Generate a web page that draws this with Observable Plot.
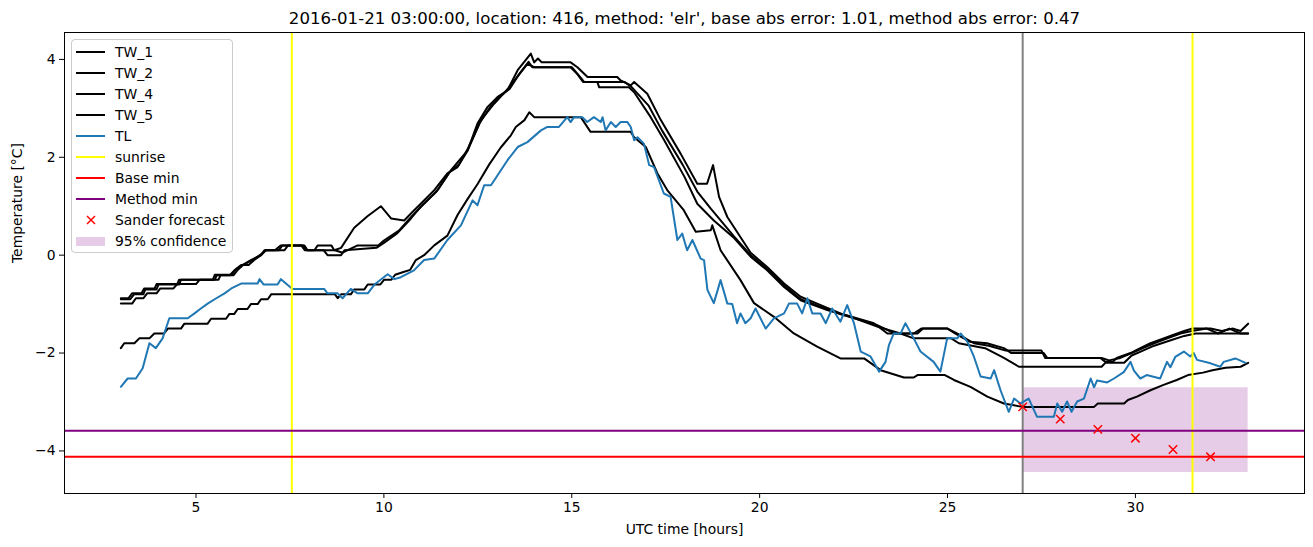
<!DOCTYPE html>
<html>
<head>
<meta charset="utf-8">
<script src="https://cdn.jsdelivr.net/npm/d3@7"></script>
<script src="https://cdn.jsdelivr.net/npm/@observablehq/plot@0.6"></script>
<style>
  body { margin: 0; background: #fff; font-family: "DejaVu Sans", sans-serif; }
  #wrap { position: relative; width: 1313px; height: 547px; }
  #legend { position: absolute; left: 71px; top: 39px; width: 162px; height: 214px; box-sizing: border-box;
            border: 1px solid #cccccc; border-radius: 4px; background: rgba(255,255,255,0.8);
            font-family: "DejaVu Sans", sans-serif; font-size: 13.9px; color: #000; }
  .row { position: absolute; left: 0; width: 160px; height: 20px; }
  .row svg { position: absolute; left: 3px; top: 0; }
  .row span { position: absolute; left: 43px; top: 1px; line-height: 18px; white-space: nowrap; }
</style>
</head>
<body>
<div id="wrap"><div id="legend"></div></div>
<script>
// ---------- data ----------
const titleText = "2016-01-21 03:00:00, location: 416, method: 'elr', base abs error: 1.01, method abs error: 0.47";
const xLabel = "UTC time [hours]";
const yLabel = "Temperature [°C]";
const xTicks = [5, 10, 15, 20, 25, 30];
const yTicks = [-4, -2, 0, 2, 4];

const tw1X = [3.0,3.2,3.3,3.55,3.62,3.9,3.95,4.5,4.55,5.5,5.55,5.9,6.02,6.2,6.4,6.55,6.73,6.82,7.1,7.26,7.88,7.97,8.15,8.24,8.6,8.68,8.86,9.21,9.57,9.92,10.19,10.54,10.72,10.98,11.34,11.69,11.96,12.23,12.49,12.76,13.02,13.29,13.56,13.91,14.0,14.1,14.2,14.97,15.15,15.42,16.21,16.3,16.57,16.66,17.01,17.37,17.9,18.34,18.6,18.76,18.92,19.14,19.76,20.2,20.65,21.09,21.53,22.15,23.04,23.4,24.1,24.3,25.0,25.2,25.6,26.05,26.5,26.7,27.56,27.65,29.07,29.2,29.4,29.5,29.87,30.13,30.4,30.75,31.0,31.3,31.5,32.0,32.3,32.6,32.8,33.0];
const tw1Y = [-0.88,-0.88,-0.78,-0.78,-0.68,-0.68,-0.59,-0.59,-0.5,-0.5,-0.41,-0.41,-0.31,-0.2,-0.2,-0.1,0.0,0.1,0.1,0.2,0.2,0.1,0.1,0.2,0.2,0.1,0.15,0.56,0.8,1.0,0.75,0.71,0.85,1.05,1.33,1.67,1.8,2.14,2.69,3.03,3.23,3.37,3.78,4.12,3.94,4.02,3.94,3.94,3.84,3.64,3.64,3.57,3.47,3.54,3.3,2.76,2.07,1.46,1.46,1.84,1.19,0.78,0.05,-0.24,-0.58,-0.85,-0.99,-1.19,-1.39,-1.6,-1.6,-1.5,-1.5,-1.6,-1.77,-1.8,-1.9,-2.0,-2.0,-2.1,-2.1,-2.18,-2.18,-2.1,-2.0,-1.9,-1.8,-1.7,-1.63,-1.55,-1.5,-1.5,-1.55,-1.5,-1.55,-1.4];

const tw2X = [3.0,3.3,3.4,3.6,3.7,3.95,4.05,4.4,4.5,5.0,5.1,5.6,5.65,6.0,6.1,6.25,6.46,6.73,6.86,7.35,7.45,7.8,7.9,8.4,8.5,8.86,8.95,9.8,10.0,10.36,10.72,10.98,11.43,11.78,12.23,12.58,12.94,13.3,13.82,14.0,15.0,15.33,15.68,15.73,16.52,16.66,17.1,17.46,18.0,18.34,18.78,19.32,19.76,20.2,20.65,21.09,21.8,22.42,23.13,23.75,24.1,25.1,25.3,26.0,26.5,26.9,29.1,29.2,29.7,29.9,30.2,30.5,30.9,31.3,31.6,33.0];
const tw2Y = [-0.99,-0.99,-0.88,-0.88,-0.78,-0.78,-0.68,-0.68,-0.59,-0.59,-0.5,-0.5,-0.41,-0.41,-0.31,-0.2,-0.1,0.0,0.1,0.1,0.2,0.2,0.1,0.1,0.0,0.0,0.1,0.15,0.25,0.45,0.75,0.99,1.33,1.73,2.14,2.76,3.1,3.4,3.91,3.84,3.84,3.54,3.54,3.43,3.43,3.33,2.82,2.35,1.6,1.05,0.71,0.35,-0.03,-0.31,-0.65,-0.92,-1.12,-1.26,-1.46,-1.6,-1.7,-1.7,-1.8,-1.9,-2.1,-2.28,-2.28,-2.2,-2.2,-2.05,-1.95,-1.85,-1.75,-1.65,-1.6,-1.6];

const tw4X = [3.0,3.25,3.35,3.6,3.65,3.95,4.0,4.55,4.6,5.45,5.5,5.95,6.05,6.25,6.5,6.7,6.85,7.2,7.3,7.85,7.95,8.7,8.9,9.3,9.85,10.0,10.4,10.75,11.0,11.4,11.75,12.0,12.25,12.55,12.85,13.1,13.35,13.6,13.85,13.95,14.97,15.15,15.3,16.4,16.6,17.05,17.4,17.95,18.34,18.7,19.3,19.76,20.2,20.65,21.09,21.6,22.2,23.1,23.6,24.2,24.35,25.0,25.25,25.7,26.1,26.55,27.5,27.6,29.1,29.3,29.6,29.9,30.2,30.5,30.85,31.2,31.5,31.9,32.2,32.5,32.8,33.0];
const tw4Y = [-0.9,-0.9,-0.8,-0.8,-0.7,-0.7,-0.6,-0.6,-0.5,-0.5,-0.4,-0.4,-0.3,-0.2,-0.1,0.0,0.1,0.1,0.2,0.2,0.1,0.1,0.05,0.2,0.2,0.3,0.5,0.8,1.0,1.3,1.7,1.85,2.2,2.7,3.05,3.25,3.4,3.7,3.95,3.84,3.84,3.7,3.54,3.54,3.43,3.05,2.55,1.85,1.3,0.95,0.4,0.0,-0.28,-0.62,-0.9,-1.05,-1.22,-1.42,-1.6,-1.6,-1.5,-1.5,-1.6,-1.8,-1.85,-1.95,-1.95,-2.1,-2.1,-2.15,-2.1,-2.0,-1.9,-1.8,-1.7,-1.6,-1.55,-1.5,-1.6,-1.5,-1.6,-1.6];

const tw5X = [3.0,3.09,3.36,3.49,3.76,3.89,4.15,4.25,4.6,4.69,5.31,5.4,5.8,5.89,6.02,6.11,6.37,6.46,6.64,6.73,6.91,7.0,8.7,8.77,8.86,9.12,9.21,9.48,9.57,9.9,10.01,10.2,10.3,10.5,10.7,10.85,11.07,11.34,11.69,11.96,12.23,12.49,12.8,13.11,13.38,13.51,13.74,13.87,14.0,15.24,15.5,16.57,16.66,16.97,17.28,17.54,17.98,18.3,18.7,18.74,18.96,19.49,19.85,20.38,20.91,21.53,22.15,22.78,23.22,23.84,24.1,24.2,24.93,25.17,25.61,26.06,26.5,27.0,28.9,29.0,29.7,29.8,30.04,30.4,30.75,31.1,31.4,31.8,32.05,32.4,32.8,33.0];
const tw5Y = [-1.9,-1.8,-1.8,-1.7,-1.7,-1.6,-1.6,-1.5,-1.5,-1.4,-1.4,-1.3,-1.3,-1.2,-1.2,-1.1,-1.1,-1.0,-1.0,-0.9,-0.9,-0.8,-0.8,-0.88,-0.8,-0.8,-0.7,-0.7,-0.6,-0.6,-0.5,-0.5,-0.4,-0.35,-0.3,-0.1,0.0,0.2,0.4,0.82,1.15,1.45,1.85,2.2,2.45,2.62,2.76,2.92,2.82,2.82,2.52,2.52,2.41,2.21,1.67,1.33,0.92,0.48,0.51,0.61,0.1,-0.51,-0.98,-1.26,-1.6,-1.87,-2.11,-2.11,-2.35,-2.5,-2.5,-2.45,-2.45,-2.55,-2.69,-2.89,-3.03,-3.1,-3.1,-3.03,-3.03,-2.96,-2.89,-2.76,-2.65,-2.55,-2.45,-2.4,-2.35,-2.3,-2.28,-2.2];

const tlX = [3.0,3.18,3.4,3.58,3.76,3.93,4.11,4.29,4.78,4.96,5.13,5.31,5.54,5.76,5.94,6.2,6.64,6.69,6.8,7.17,7.26,7.44,7.57,8.41,8.5,8.77,8.9,9.12,9.3,9.57,9.75,10.1,10.28,10.45,10.8,11.07,11.34,11.69,12.05,12.36,12.49,12.67,12.85,13.29,13.56,13.82,14.18,14.35,14.66,14.88,14.97,15.06,15.28,15.41,15.59,15.77,15.82,15.9,16.04,16.17,16.3,16.48,16.57,16.66,16.75,16.92,17.06,17.19,17.45,17.63,17.81,17.94,18.07,18.21,18.43,18.52,18.61,18.78,18.96,19.14,19.27,19.4,19.49,19.62,19.76,19.89,20.16,20.38,20.65,20.78,21.0,21.13,21.27,21.4,21.62,21.76,21.93,22.15,22.33,22.51,22.69,22.95,23.18,23.35,23.44,23.57,23.75,23.88,24.1,24.28,24.63,24.81,24.99,25.26,25.35,25.53,25.7,25.88,26.15,26.24,26.41,26.63,26.77,26.94,27.16,27.38,27.83,27.92,28.05,28.18,28.3,28.45,28.63,28.81,28.9,28.98,29.25,29.43,29.69,29.87,29.96,30.13,30.3,30.66,30.84,30.93,31.06,31.29,31.46,31.55,31.64,32.0,32.26,32.35,32.66,32.93];
const tlY = [-2.69,-2.52,-2.52,-2.31,-1.8,-1.9,-1.7,-1.29,-1.29,-1.19,-1.09,-0.99,-0.88,-0.78,-0.68,-0.58,-0.58,-0.49,-0.6,-0.6,-0.49,-0.61,-0.69,-0.69,-0.78,-0.78,-0.88,-0.69,-0.78,-0.78,-0.6,-0.39,-0.49,-0.45,-0.31,-0.1,-0.07,0.31,0.61,1.12,1.02,1.43,1.43,1.94,2.21,2.31,2.55,2.62,2.62,2.82,2.72,2.82,2.82,2.72,2.82,2.72,2.82,2.55,2.72,2.62,2.72,2.72,2.62,2.35,2.41,2.28,1.84,1.8,1.26,1.19,0.31,0.44,0.1,0.31,-0.07,-0.1,-0.71,-0.98,-0.51,-0.99,-1.0,-1.39,-1.19,-1.39,-1.29,-1.09,-1.5,-1.29,-1.19,-0.99,-0.99,-1.19,-0.88,-1.19,-1.19,-1.39,-1.09,-1.36,-1.02,-1.39,-1.97,-2.07,-2.38,-2.18,-1.84,-1.6,-1.6,-1.39,-1.7,-1.97,-2.18,-2.38,-1.7,-1.7,-1.6,-1.77,-2.07,-2.48,-2.52,-2.35,-2.76,-3.2,-2.93,-3.03,-2.93,-3.3,-3.3,-3.03,-3.2,-2.99,-3.2,-2.99,-2.93,-2.52,-2.7,-2.56,-2.6,-2.52,-2.39,-2.18,-2.36,-2.52,-2.45,-2.52,-2.18,-2.29,-2.08,-1.97,-2.07,-2.0,-2.14,-2.21,-2.28,-2.18,-2.11,-2.2];

const sunriseTimes = [7.55, 31.52];
const forecastTime = 27.0;
const baseMin = -4.12;
const methodMin = -3.59;
const sanderX = [27, 28, 29, 30, 31, 32];
const sanderY = [-3.1, -3.35, -3.56, -3.74, -3.97, -4.12];
const confX = [27, 33];
const confY = [-4.44, -2.71];

const legendLabels = ["TW_1", "TW_2", "TW_4", "TW_5", "TL", "sunrise", "Base min", "Method min", "Sander forecast", "95% confidence"];
const legendColors = ["black", "black", "black", "black", "#1f77b4", "yellow", "red", "purple", "red", "purple"];
const legendKinds = ["line", "line", "line", "line", "line", "line", "line", "line", "x", "patch"];

// ---------- build ----------
const twSeries = [["TW_1", tw1X, tw1Y], ["TW_2", tw2X, tw2Y], ["TW_4", tw4X, tw4Y], ["TW_5", tw5X, tw5Y]];
const twRows = twSeries.flatMap(([s, xs, ys]) => xs.map((t, i) => ({s, t, v: ys[i]})));
const tlRows = tlX.map((t, i) => ({t, v: tlY[i]}));
const sanderRows = sanderX.map((t, i) => ({t, v: sanderY[i]}));
const confRows = [{x1: confX[0], x2: confX[1], y1: confY[0], y2: confY[1]}];
const minus = d => d < 0 ? "\u2212" + Math.abs(d) : String(d);

const chart = Plot.plot({
  width: 1313, height: 547,
  marginLeft: 64, marginRight: 9, marginTop: 32, marginBottom: 54,
  style: {fontFamily: "DejaVu Sans", fontSize: "13.9px", color: "black", background: "white", overflow: "visible"},
  x: {domain: [1.5, 34.5]},
  y: {domain: [-4.87, 4.55]},
  marks: [
    Plot.rect(confRows, {x1: "x1", x2: "x2", y1: "y1", y2: "y2", fill: "purple", fillOpacity: 0.2}),
    Plot.ruleX([forecastTime], {stroke: "gray", strokeWidth: 2}),
    Plot.line(twRows, {x: "t", y: "v", z: "s", stroke: "black", strokeWidth: 2}),
    Plot.line(tlRows, {x: "t", y: "v", stroke: "#1f77b4", strokeWidth: 2}),
    Plot.ruleX(sunriseTimes, {stroke: "yellow", strokeWidth: 2}),
    Plot.ruleY([baseMin], {stroke: "red", strokeWidth: 2}),
    Plot.ruleY([methodMin], {stroke: "purple", strokeWidth: 2}),
    Plot.dot(sanderRows, {x: "t", y: "v", symbol: "times", r: 3.9, stroke: "red", strokeWidth: 1.5}),
    Plot.frame({stroke: "black", strokeWidth: 1}),
    Plot.axisX({ticks: xTicks, tickSize: 5, tickPadding: 4, label: null, fontSize: 13.9}),
    Plot.axisY({ticks: yTicks, tickSize: 5, tickPadding: 4, label: null, tickFormat: minus, fontSize: 13.9}),
    Plot.text([titleText], {text: d => d, frameAnchor: "top", lineAnchor: "middle", dy: -14, fontSize: 16.6}),
    Plot.text([xLabel], {text: d => d, frameAnchor: "bottom", lineAnchor: "middle", dy: 36, fontSize: 13.9}),
    Plot.text([yLabel], {text: d => d, frameAnchor: "left", lineAnchor: "middle", dx: -47, rotate: -90, fontSize: 13.9})
  ]
});
const wrap = document.getElementById("wrap");
wrap.insertBefore(chart, wrap.firstChild);

// legend
const legend = document.getElementById("legend");
legendLabels.forEach((lab, i) => {
  const row = document.createElement("div");
  row.className = "row";
  row.style.top = (2 + i * 21) + "px";
  let h;
  if (legendKinds[i] === "line") h = `<line x1="1" x2="30" y1="10" y2="10" stroke="${legendColors[i]}" stroke-width="2"/>`;
  else if (legendKinds[i] === "x") h = `<path d="M12,6L20,14M12,14L20,6" stroke="${legendColors[i]}" stroke-width="1.5"/>`;
  else h = `<rect x="1" y="6" width="29" height="9" fill="${legendColors[i]}" fill-opacity="0.2"/>`;
  row.innerHTML = `<svg width="34" height="20">${h}</svg><span>${lab}</span>`;
  legend.appendChild(row);
});
</script>
</body>
</html>
